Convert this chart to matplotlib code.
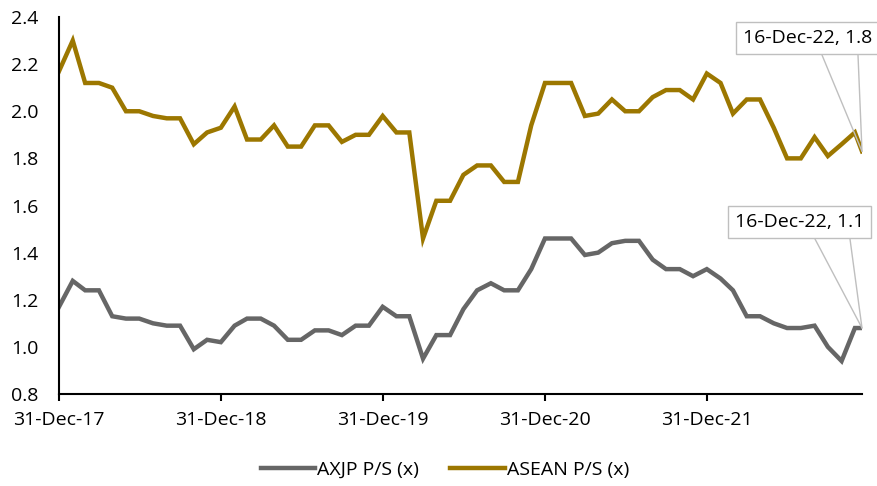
import numpy as np
import pandas as pd
import matplotlib
matplotlib.use("Agg")
import matplotlib.pyplot as plt
import matplotlib.dates as mdates

plt.rcParams['font.family'] = ['Open Sans', 'DejaVu Sans']

# month-end observations from Dec-17 to Nov-22, plus the latest print on 16-Dec-22
dates = list(pd.date_range("2017-12-31", "2022-11-30", freq="ME")) + [pd.Timestamp("2022-12-16")]

axjp_ps = [1.17, 1.28, 1.24, 1.24, 1.13, 1.12, 1.12, 1.10, 1.09, 1.09,
           0.99, 1.03, 1.02, 1.09, 1.12, 1.12, 1.09, 1.03, 1.03, 1.07,
           1.07, 1.05, 1.09, 1.09, 1.17, 1.13, 1.13, 0.95, 1.05, 1.05,
           1.16, 1.24, 1.27, 1.24, 1.24, 1.33, 1.46, 1.46, 1.46, 1.39,
           1.40, 1.44, 1.45, 1.45, 1.37, 1.33, 1.33, 1.30, 1.33, 1.29,
           1.24, 1.13, 1.13, 1.10, 1.08, 1.08, 1.09, 1.00, 0.94, 1.08,
           1.08]
asean_ps = [2.17, 2.30, 2.12, 2.12, 2.10, 2.00, 2.00, 1.98, 1.97, 1.97,
            1.86, 1.91, 1.93, 2.02, 1.88, 1.88, 1.94, 1.85, 1.85, 1.94,
            1.94, 1.87, 1.90, 1.90, 1.98, 1.91, 1.91, 1.46, 1.62, 1.62,
            1.73, 1.77, 1.77, 1.70, 1.70, 1.94, 2.12, 2.12, 2.12, 1.98,
            1.99, 2.05, 2.00, 2.00, 2.06, 2.09, 2.09, 2.05, 2.16, 2.12,
            1.99, 2.05, 2.05, 1.93, 1.80, 1.80, 1.89, 1.81, 1.86, 1.91,
            1.83]
series_names = ["AXJP P/S (x)", "ASEAN P/S (x)"]
tick_dates = pd.to_datetime(["2017-12-31", "2018-12-31", "2019-12-31",
                             "2020-12-31", "2021-12-31"])

GREY = "#666666"
GOLD = "#9C7700"
H = 486
FS = 14

fig = plt.figure(figsize=(8.78, 4.86), dpi=100)
ax = fig.add_axes([59 / 878, 92 / 486, 803 / 878, 377 / 486])

ax.plot(dates, axjp_ps, color=GREY, lw=3.2, solid_joinstyle='miter', label=series_names[0])
ax.plot(dates, asean_ps, color=GOLD, lw=3.2, solid_joinstyle='miter', label=series_names[1])

ax.set_xlim(dates[0], dates[-1])
ax.set_ylim(0.8, 2.4)
ax.set_yticks(np.arange(0.8, 2.41, 0.2))
ax.yaxis.set_major_formatter(matplotlib.ticker.FormatStrFormatter('%.1f'))
ax.set_xticks(tick_dates)
ax.xaxis.set_major_formatter(mdates.DateFormatter('%d-%b-%y'))

for side in ['top', 'right']:
    ax.spines[side].set_visible(False)
for side in ['left', 'bottom']:
    ax.spines[side].set_color('black')
    ax.spines[side].set_linewidth(1.5)
ax.tick_params(axis='y', length=0, pad=15, labelsize=FS)
ax.tick_params(axis='x', length=5, width=1.5, direction='out', pad=7, labelsize=FS)

# data callouts for the latest values
def callout(value, box_xy, leg_x):
    bx, by = box_xy
    ax.annotate(f"{dates[-1].strftime('%d-%b-%y')}, {value:.1f}",
                xy=(bx, H - by), xycoords='figure pixels',
                ha='left', va='center', fontsize=FS,
                bbox=dict(boxstyle='square,pad=0.35', fc='white', ec='#BFBFBF', lw=1))
    for lx in leg_x:
        ax.annotate("", xy=(mdates.date2num(dates[-1]), value), xycoords='data',
                    xytext=(lx, H - by - 17), textcoords='figure pixels',
                    arrowprops=dict(arrowstyle='-', color='#BFBFBF', lw=1,
                                    shrinkA=0, shrinkB=0))

callout(asean_ps[-1], (743, 38), (822, 858))
callout(axjp_ps[-1], (735, 222), (815, 850))

fig.legend(loc='center', bbox_to_anchor=(445 / 878, 16 / 486), ncol=2, frameon=False,
           fontsize=FS, handlelength=2.8, handletextpad=0.1, columnspacing=1.6)

fig.savefig("out.png", dpi=100)
